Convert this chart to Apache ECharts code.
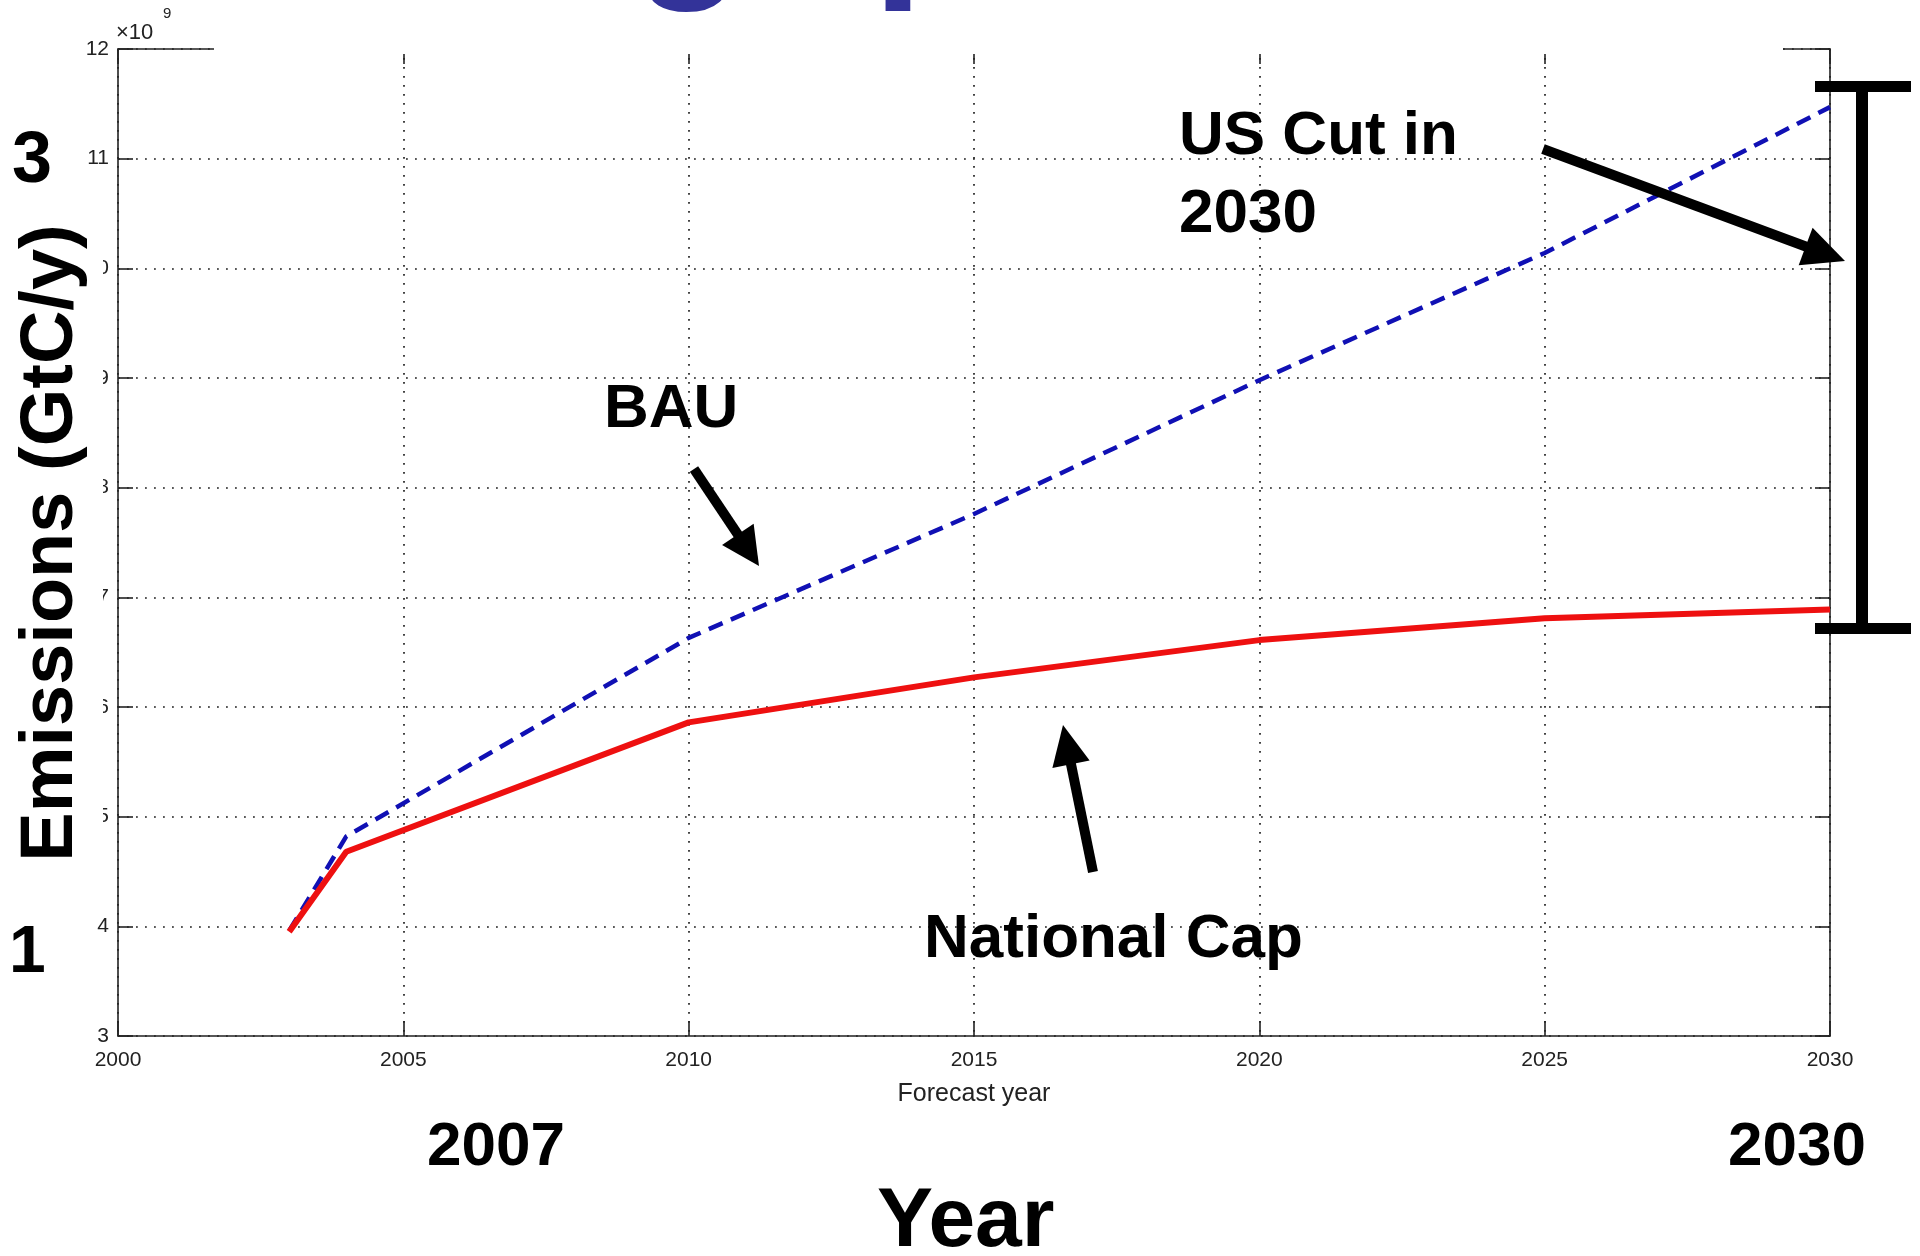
<!DOCTYPE html>
<html><head><meta charset="utf-8">
<script src="https://cdn.jsdelivr.net/npm/echarts@6/dist/echarts.min.js"></script>
<style>html,body{margin:0;padding:0;background:#fff}#c{width:1920px;height:1256px}</style>
</head><body><div id="c"></div>
<script>
// Data (emissions in units of 10^9)
const years = [2003, 2004, 2010, 2015, 2020, 2025, 2030];
const bau = [3.96, 4.82, 6.63, 7.76, 8.98, 10.14, 11.47];
const nationalCap = [3.95, 4.68, 5.86, 6.27, 6.61, 6.81, 6.89];
const xTickLabels = [2000, 2005, 2010, 2015, 2020, 2025, 2030];
const yTickLabels = [3, 4, 5, 6, 7, 8, 9, 10, 11, 12];

const chart = echarts.init(document.getElementById('c'), null, {renderer: 'canvas', width: 1920, height: 1256});
const axisColor = '#222';
const font = '"Liberation Sans", Arial, Helvetica, sans-serif';
const grid = {show: true, lineStyle: {color: '#222', width: 1.7, type: [1.8, 7.2]}};

function arrow(x1, y1, x2, y2, w, hl, hw) {
  const dx = x2 - x1, dy = y2 - y1, L = Math.hypot(dx, dy);
  const ux = dx / L, uy = dy / L, px = -uy, py = ux;
  const bx = x2 - ux * hl, by = y2 - uy * hl;
  return [
    {type: 'line', z: 100, shape: {x1: x1, y1: y1, x2: bx + ux * 3, y2: by + uy * 3}, style: {stroke: '#000', lineWidth: w}},
    {type: 'polygon', z: 100, shape: {points: [[x2, y2], [bx + px * hw / 2, by + py * hw / 2], [bx - px * hw / 2, by - py * hw / 2]]}, style: {fill: '#000'}}
  ];
}
function label(text, x, baseline, size, color) {
  return {type: 'text', z: 101, x: x, y: baseline - 0.36 * size,
    style: {text: text, font: 'bold ' + size + 'px ' + font, fill: color || '#000', textAlign: 'left', textVerticalAlign: 'middle'}};
}

const graphics = [
  // white boxes of the slide text frames that hide parts of the plot
  {type: 'rect', z: 90, shape: {x: 214, y: 0, width: 1569, height: 54}, style: {fill: '#fff'}},
  {type: 'rect', z: 90, shape: {x: 0, y: 200, width: 103, height: 680}, style: {fill: '#fff'}},
  // cut-off title fragments
  {type: 'text', z: 101, x: 634, y: -76, style: {text: 'g', font: 'bold 180px ' + font, fill: '#333399', textAlign: 'left', textVerticalAlign: 'middle'}},
  {type: 'text', z: 101, x: 873, y: -76, style: {text: 'p', font: 'bold 180px ' + font, fill: '#333399', textAlign: 'left', textVerticalAlign: 'middle'}},
  // exponent
  {type: 'text', z: 101, x: 116, y: 33, style: {text: '×10', font: '22px ' + font, fill: '#222', textAlign: 'left', textVerticalAlign: 'middle'}},
  {type: 'text', z: 101, x: 163, y: 14, style: {text: '9', font: '15px ' + font, fill: '#222', textAlign: 'left', textVerticalAlign: 'middle'}},
  // rotated axis title
  {type: 'text', z: 101, x: 52, y: 543, rotation: Math.PI / 2,
    style: {text: 'Emissions (GtC/y)', font: 'bold 74px ' + font, fill: '#000', textAlign: 'center', textVerticalAlign: 'middle'}},
  label('3', 12, 188, 72),
  label('1', 9, 978, 66),
  label('US Cut in', 1179, 159, 62),
  label('2030', 1179, 237, 62),
  label('BAU', 604, 432, 62),
  label('National Cap', 924, 962, 62),
  label('2007', 427, 1170, 62),
  label('2030', 1728, 1170, 62),
  label('Year', 877, 1253, 84),
  // bracket
  {type: 'rect', z: 100, shape: {x: 1856, y: 86, width: 12, height: 543}, style: {fill: '#000'}},
  {type: 'rect', z: 100, shape: {x: 1815, y: 81, width: 96, height: 11}, style: {fill: '#000'}},
  {type: 'rect', z: 100, shape: {x: 1815, y: 623, width: 96, height: 11}, style: {fill: '#000'}}
].concat(
  arrow(694, 469, 759, 566, 10, 38, 38),
  arrow(1093, 872, 1063, 725, 10, 40, 38),
  arrow(1543, 149, 1845, 261, 10, 42, 40)
);

const axisBase = {
  type: 'value',
  axisLine: {show: true, onZero: false, lineStyle: {color: axisColor, width: 1.6}},
  axisTick: {show: true, inside: true, length: 15, lineStyle: {color: axisColor, width: 1.6}}
};
const plain = v => String(v);

chart.setOption({
  animation: false,
  backgroundColor: '#fff',
  grid: {left: 118, top: 49, width: 1712, height: 987},
  xAxis: [
    Object.assign({}, axisBase, {
      position: 'bottom', min: xTickLabels[0], max: xTickLabels[xTickLabels.length - 1], interval: 5,
      axisLabel: {color: '#222', fontFamily: font, fontSize: 21, margin: 14, formatter: plain},
      splitLine: grid,
      name: 'Forecast year', nameLocation: 'middle', nameGap: 46,
      nameTextStyle: {color: '#222', fontFamily: font, fontSize: 25}
    }),
    Object.assign({}, axisBase, {
      position: 'top', min: xTickLabels[0], max: xTickLabels[xTickLabels.length - 1], interval: 5,
      axisLabel: {show: false}, splitLine: {show: false}
    })
  ],
  yAxis: [
    Object.assign({}, axisBase, {
      position: 'left', min: yTickLabels[0], max: yTickLabels[yTickLabels.length - 1], interval: 1,
      axisLabel: {color: '#222', fontFamily: font, fontSize: 21, margin: 9, formatter: plain},
      splitLine: grid
    }),
    Object.assign({}, axisBase, {
      position: 'right', min: yTickLabels[0], max: yTickLabels[yTickLabels.length - 1], interval: 1,
      axisLabel: {show: false}, splitLine: {show: false}
    })
  ],
  series: [
    {name: 'BAU', type: 'line', xAxisIndex: 0, yAxisIndex: 0, showSymbol: false, symbol: 'none', z: 3,
      lineStyle: {color: '#1010b4', width: 4.5, type: [15, 9]},
      data: years.map((y, i) => [y, bau[i]])},
    {name: 'National Cap', type: 'line', xAxisIndex: 0, yAxisIndex: 0, showSymbol: false, symbol: 'none', z: 4,
      lineStyle: {color: '#ee1010', width: 6},
      data: years.map((y, i) => [y, nationalCap[i]])}
  ],
  graphic: {elements: graphics}
});
</script>
</body></html>
